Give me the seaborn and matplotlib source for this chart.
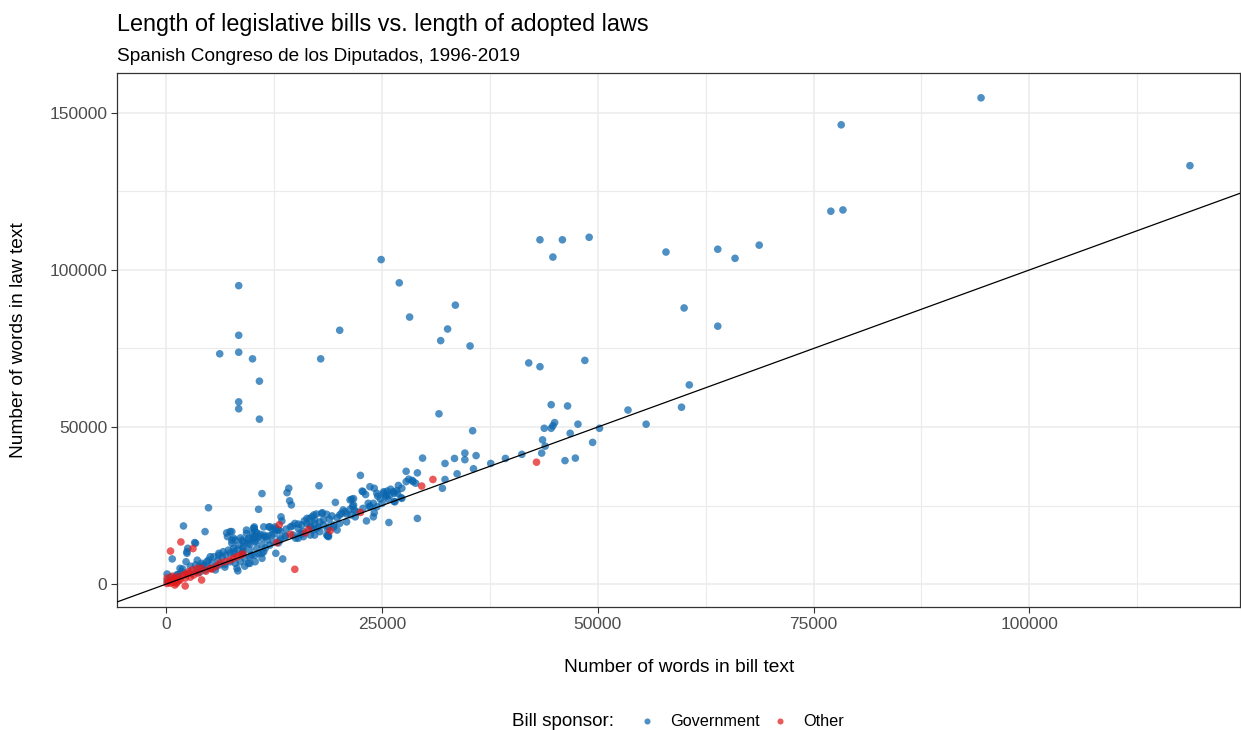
import matplotlib
matplotlib.use("Agg")
import matplotlib.pyplot as plt
import seaborn as sns
import pandas as pd
from matplotlib.ticker import MultipleLocator, FuncFormatter

# ---------------- data (words in bill text, words in law text) ----------------
gov_bill = [
    94400, 78200, 118600, 77000, 78400, 68700, 63900, 65900, 57900, 49000,
    45900, 43300, 44800, 24900, 60000, 63900, 48500, 60600, 53500, 59700,
    55600, 50200,
    27000, 33500, 28200, 32600, 20100, 31800, 35200, 17900, 42000, 43300,
    31600, 35500, 44600, 46500, 43800, 44600, 44800, 45000, 47700, 46800,
    43600, 43900, 43500, 49400, 46200, 47400, 41200, 39300, 37600, 35900,
    34600, 34600, 33400, 32300, 29700, 35600, 33700, 27800, 29100, 22500,
    28100, 28500, 28900, 32300, 32000, 17700, 23600, 24100, 22700, 23100,
    26900, 27300, 26700, 26000, 25600, 25200, 25400, 25900, 26400, 26800,
    27200, 26400, 25700, 24800, 24500, 24000, 23400, 23600, 21300, 21700,
    21600, 21800, 19600, 20500, 20300, 20900, 21400, 21900, 22100, 24100,
    23200, 25800, 29100, 17400, 18100, 18600, 19200, 19800, 20100, 18900,
    18200, 17800, 17200, 16600, 16300, 16700, 17000, 17600, 18200, 18800,
    19400, 19800, 18700, 15700, 15900, 10700, 14300, 14500, 14200, 14000,
    13300, 17100, 2000, 4500, 7000, 7600, 7800, 10200, 10000, 10500,
    11300, 11900, 12300, 12800, 3300, 2500, 2400, 700, 2300, 3600,
    100, 4900, 11100, 8400, 8400, 6200, 8400, 10000, 10800, 8400,
    8400, 10800,
    3400, 2400, 1600, 3400, 4100, 4900, 5500, 6100, 6600, 7200,
    7800, 8400, 8900, 9500, 10100, 10700, 7600, 8000, 8600, 4500,
    5100, 5700, 6200, 6800, 7400, 8000, 8600, 9100, 9700, 10300,
    8200, 9500, 10300, 11100, 1400, 1800, 2600, 3400, 1000, 8900,
    9700, 10500, 11100, 10300, 9500, 10700, 11300, 9900,
    10100, 10300, 9300, 8800, 9500, 10300, 10900, 11500, 12000, 12600,
    13000, 12200, 11700, 12400, 13200, 13800, 14400, 14900, 15300, 15700,
    15900, 14700, 15300, 16300, 16900, 18000, 17400, 17200, 16700, 17800,
    17200, 18600, 19400, 20100, 20900, 20700, 18800,
    8300, 9700, 11100, 12700, 13500, 16700, 18800, 18700, 12600, 11300,
    10200, 10100, 7400, 7100, 7600, 8900, 8800, 7800, 6100, 5100,
    4700, 4300, 3900, 22800, 23600, 24400, 25000, 25500, 24000, 13800,
    13200,
    500, 1200, 1900, 2800, 100,
    22800, 24400, 25200, 26300, 26500, 27300, 27800, 28600, 21500, 21700,
    21300,
    3900, 4500, 5300, 6000, 6500, 6900, 7400, 7900, 8300, 9000,
    9700, 10400, 11100, 11800, 12500, 13200, 13900, 14600, 15300, 16000,
    5700, 6800, 9100, 11500, 12000, 13000, 15000, 15500, 13400, 9300,
]
gov_law = [
    154800, 146200, 133200, 118700, 119100, 107900, 106600, 103700, 105700, 110400,
    109600, 109600, 104100, 103300, 87900, 82100, 71200, 63400, 55400, 56300,
    50900, 49600,
    95900, 88800, 85000, 81200, 80800, 77500, 75800, 71700, 70400, 69200,
    54200, 48800, 57100, 56700, 49600, 49600, 50400, 51400, 50900, 48000,
    45900, 43900, 41700, 45100, 39300, 40100, 41300, 40000, 38400, 40900,
    41700, 39600, 40000, 38400, 40100, 36700, 35100, 35900, 35400, 34600,
    33400, 33000, 32100, 33300, 30500, 31300, 31000, 30500, 29600, 28500,
    31400, 30500, 29700, 30200, 29600, 28900, 27800, 28300, 28900, 28900,
    27500, 26300, 27000, 27100, 28000, 25700, 25700, 24800, 26800, 27200,
    24800, 23600, 26000, 23600, 22500, 22300, 22000, 21400, 23000, 22700,
    20100, 19600, 20900, 22300, 22700, 22200, 21700, 21100, 22000, 20600,
    20400, 19800, 20400, 20900, 19300, 18100, 17200, 18100, 18800, 18200,
    18100, 17200, 15300, 15900, 15100, 23800, 26500, 25200, 30500, 29100,
    21400, 22000, 18500, 16700, 16300, 16700, 14600, 18200, 16100, 16300,
    15600, 18200, 17400, 17200, 13200, 11400, 9800, 8000, 7100, 7600,
    3200, 24300, 28800, 95000, 79200, 73300, 73800, 71700, 64600, 58000,
    55800, 52500,
    13000, 10300, 5000, 6100, 6600, 7600, 8700, 9200, 10300, 10800,
    11400, 12400, 13500, 14000, 14600, 15100, 13000, 14000, 14700, 4500,
    5000, 5500, 6100, 6300, 7100, 6600, 7100, 8200, 8700, 9200,
    5000, 6600, 7100, 8200, 3100, 3900, 3400, 3900, 1800, 10300,
    10800, 11400, 12400, 13500, 13000, 9800, 10300, 9200,
    17700, 16700, 16100, 14000, 14600, 14700, 15800, 15100, 18200, 17700,
    17200, 15600, 14000, 13500, 14600, 15400, 18200, 19300, 17700, 18800,
    16700, 15600, 14600, 20900, 21400, 22500, 17700, 19300, 18800, 16700,
    15600, 15600, 18800, 19300, 19800, 23000, 15100,
    4200, 6600, 9800, 9800, 8000, 15600, 15400, 17400, 18200, 18200,
    17700, 15100, 16700, 15100, 14000, 11400, 9800, 9800, 9800, 8700,
    7100, 6100, 5500, 24100, 24600, 24600, 25700, 28300, 21400, 15100,
    14000,
    2200, 2900, 4800, 5700, 1000,
    29400, 28900, 29400, 29400, 26200, 27300, 32600, 32600, 27000, 25200,
    23800,
    3800, 5700, 6700, 7600, 8600, 9200, 9900, 10500, 11100, 12100,
    12700, 13700, 14600, 15300, 15900, 16900, 17500, 18500, 19100, 20100,
    4500, 5400, 5700, 11500, 12400, 13100, 14600, 16200, 20100, 17200,
]
oth_bill = [
    30900, 29600, 42900, 22500, 19000, 16100, 16500, 14400, 13100, 12800,
    14900, 500, 1700, 3100, 4100, 6800, 7400, 7800, 8200, 8600,
    8900, 6200, 5100, 100, 300, 700, 1000, 1400, 2000, 2600,
    3000, 3600, 4100, 500, 900, 1600, 2200, 100, 700, 1400,
    2800, 3200, 3700, 4600, 5300, 5800, 2300, 1200, 1000, 2200,
]
oth_law = [
    33300, 31200, 38800, 22800, 17000, 16300, 17400, 15800, 18900, 13200,
    4700, 10500, 13400, 11300, 1300, 7100, 7600, 8200, 8700, 9200,
    9600, 6700, 5000, 200, 700, 1300, 1800, 2300, 2900, 3900,
    4500, 5000, 5000, 300, 600, 1300, 1900, 1900, 2500, 1000,
    2200, 2900, 3500, 4100, 4800, 5700, 3200, 300, -300, -600,
]
sponsors = ["Government", "Other"]
title = "Length of legislative bills vs. length of adopted laws"
subtitle = "Spanish Congreso de los Diputados, 1996-2019"
x_label = "Number of words in bill text"
y_label = "Number of words in law text"
legend_title = "Bill sponsor:"

df = pd.DataFrame({
    "bill": gov_bill + oth_bill,
    "law": gov_law + oth_law,
    "sponsor": [sponsors[0]] * len(gov_bill) + [sponsors[1]] * len(oth_bill),
})

BLUE = "#0A66AE"
RED = "#E31A1C"

sns.set_theme(style="white")
plt.rcParams["font.family"] = ["Liberation Sans", "DejaVu Sans"]
plt.rcParams["text.color"] = "black"

W, H = 1241, 730
fig = plt.figure(figsize=(W / 100, H / 100), dpi=100)
fig.patch.set_facecolor("white")
ax = fig.add_axes([117 / W, 1 - 607 / H, (1240 - 117) / W, (607 - 73) / H])
ax.set_facecolor("white")

sns.scatterplot(data=df, x="bill", y="law", hue="sponsor",
                palette={sponsors[0]: BLUE, sponsors[1]: RED},
                s=30, alpha=0.72, linewidth=0, ax=ax, zorder=3)
ax.axline((0, 0), slope=1, color="black", lw=0.9, zorder=4)

ax.set_xlim(-5700, 124400)
ax.set_ylim(-7300, 162700)
ax.xaxis.set_major_locator(MultipleLocator(25000))
ax.xaxis.set_minor_locator(MultipleLocator(12500))
ax.yaxis.set_major_locator(MultipleLocator(50000))
ax.yaxis.set_minor_locator(MultipleLocator(25000))
fmt = FuncFormatter(lambda v, p: f"{int(round(v))}")
ax.xaxis.set_major_formatter(fmt)
ax.yaxis.set_major_formatter(fmt)
ax.grid(which="major", color="#EBEBEB", lw=1.1, zorder=0)
ax.grid(which="minor", color="#EBEBEB", lw=0.8, zorder=0)
ax.set_axisbelow(True)
ax.tick_params(which="major", length=4, width=0.8, color="#333333",
               labelsize=12.5, labelcolor="#4D4D4D", pad=3,
               bottom=True, left=True)
ax.tick_params(which="minor", length=0)
for sp in ax.spines.values():
    sp.set_color("#333333")
    sp.set_linewidth(0.9)
ax.set_xlabel("")
ax.set_ylabel("")

fig.text(679 / W, 1 - 668 / H, x_label, ha="center", va="center",
         fontsize=13.8, color="black")
fig.text(19 / W, 1 - 340 / H, y_label, ha="center", va="center",
         rotation=90, fontsize=13.8, color="black")
fig.text(117 / W, 1 - 31 / H, title, ha="left", va="baseline",
         fontsize=16.8, color="black")
fig.text(117 / W, 1 - 61 / H, subtitle, ha="left", va="baseline",
         fontsize=13.7, color="black")

handles, labels = ax.get_legend_handles_labels()
if ax.get_legend() is not None:
    ax.get_legend().remove()
fig.text(512 / W, 1 - 722 / H, legend_title, ha="left", va="center",
         fontsize=13.6, color="black")
leg = fig.legend(handles, labels, loc="center left",
                 bbox_to_anchor=(639 / W, 1 - 722 / H), ncol=2, frameon=False,
                 fontsize=11.7, handletextpad=0.92, columnspacing=0.75,
                 markerscale=0.8, borderaxespad=0, borderpad=0,
                 handlelength=1.0)
for t in leg.get_texts():
    t.set_color("black")

fig.savefig("out.png", dpi=100, facecolor="white")
